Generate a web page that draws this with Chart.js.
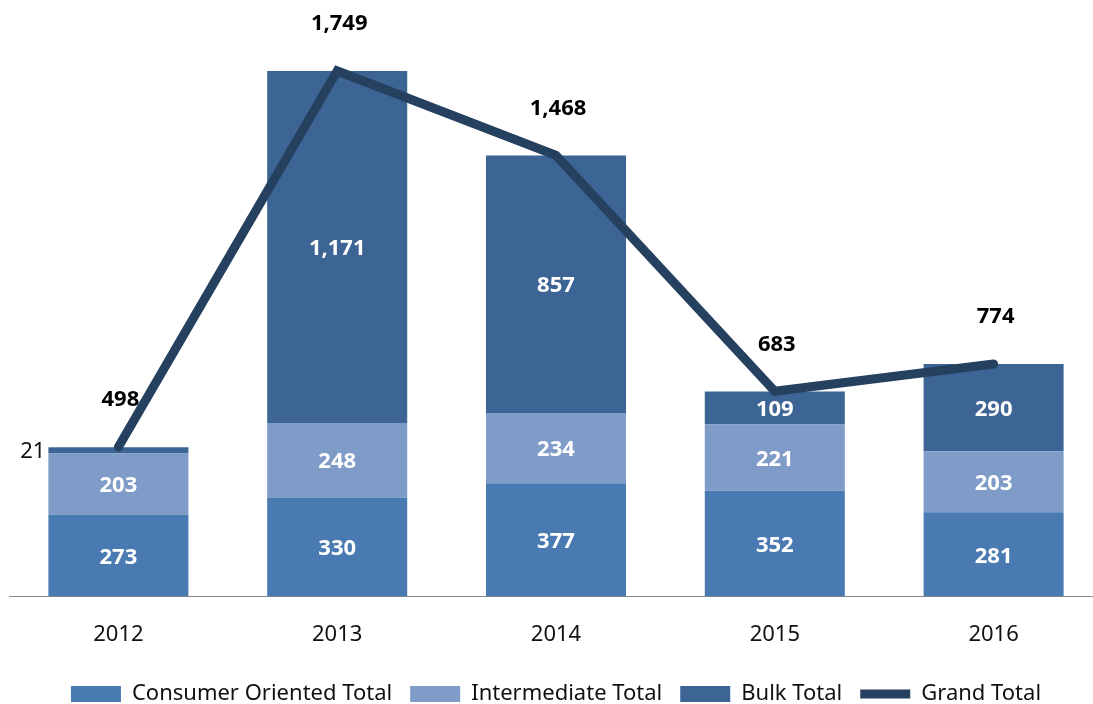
<!DOCTYPE html>
<html>
<head>
<meta charset="utf-8">
<script src="https://cdn.jsdelivr.net/npm/chart.js@4"></script>
<style>
  html, body { margin: 0; padding: 0; background: #fff; overflow: hidden; }
  #wrap { width: 1103px; height: 715px; }
</style>
</head>
<body>
<div id="wrap"><canvas id="myChart"></canvas></div>
<script>
const years = ['2012', '2013', '2014', '2015', '2016'];
const consumer = [273, 330, 377, 352, 281];
const intermediate = [203, 248, 234, 221, 203];
const bulk = [21, 1171, 857, 109, 290];
const grandTotal = [498, 1749, 1468, 683, 774];

const fontName = '"Noto Sans", "Open Sans", sans-serif';

// draws the numbers on the bars and above the line
const valueLabels = {
    id: 'valueLabels',
    afterDatasetsDraw(chart) {
        const ctx = chart.ctx;
        ctx.save();
        ctx.textBaseline = 'middle';
        chart.data.datasets.forEach((ds, i) => {
            const meta = chart.getDatasetMeta(i);
            meta.data.forEach((el, j) => {
                const v = ds.data[j];
                const txt = v.toLocaleString('en-US');
                if (ds.type === 'line') {
                    ctx.font = 'bold 22px ' + fontName;
                    ctx.fillStyle = '#000';
                    ctx.textAlign = 'center';
                    ctx.fillText(txt, el.x + 2, el.y - 47);
                } else {
                    const h = Math.abs(el.base - el.y);
                    if (h < 18) {
                        ctx.font = '22px ' + fontName;
                        ctx.fillStyle = '#111';
                        ctx.textAlign = 'right';
                        ctx.fillText(txt, el.x - el.width / 2 - 3, (el.y + el.base) / 2 + 1);
                    } else {
                        ctx.font = 'bold 22px ' + fontName;
                        ctx.fillStyle = '#fff';
                        ctx.textAlign = 'center';
                        ctx.fillText(txt, el.x, (el.y + el.base) / 2 + 2);
                    }
                }
            });
        });
        ctx.restore();
    }
};

var ctx = document.getElementById('myChart').getContext('2d');

var myChart = new Chart(ctx, {
    type: 'bar',
    data: {
        labels: years,
        datasets: [
            {
                label: 'Consumer Oriented Total',
                data: consumer,
                backgroundColor: '#4A7AB2',
                pointStyle: 'rect',
                stack: 'a',
                order: 1
            },
            {
                label: 'Intermediate Total',
                data: intermediate,
                backgroundColor: '#7F9CC8',
                pointStyle: 'rect',
                stack: 'a',
                order: 1
            },
            {
                label: 'Bulk Total',
                data: bulk,
                backgroundColor: '#3C6494',
                pointStyle: 'rect',
                stack: 'a',
                order: 1
            },
            {
                type: 'line',
                label: 'Grand Total',
                data: grandTotal,
                borderColor: '#26405F',
                backgroundColor: '#26405F',
                borderWidth: 9,
                pointRadius: 0,
                pointStyle: 'line',
                borderCapStyle: 'round',
                borderJoinStyle: 'miter',
                stack: 'line',
                order: 0
            }
        ]
    },
    options: {
        responsive: true,
        maintainAspectRatio: false,
        animation: false,
        layout: { padding: { left: 9, right: 0, top: 0, bottom: 0 } },
        datasets: {
            bar: { categoryPercentage: 1, barPercentage: 0.64 }
        },
        plugins: {
            tooltip: { enabled: false },
            legend: {
                position: 'bottom',
                labels: {
                    usePointStyle: true,
                    pointStyleWidth: 50,
                    boxHeight: 16,
                    padding: 18,
                    color: '#111',
                    font: { family: fontName, size: 22 },
                    sort: (a, b) => a.datasetIndex - b.datasetIndex
                }
            }
        },
        scales: {
            x: {
                stacked: true,
                grid: { display: false },
                border: { display: true, color: '#8a8a8a', width: 1 },
                ticks: {
                    color: '#111',
                    padding: 17,
                    font: { family: fontName, size: 22 }
                }
            },
            y: {
                stacked: true,
                display: false,
                min: 0,
                max: 1985
            }
        }
    },
    plugins: [valueLabels]
});
</script>
</body>
</html>
